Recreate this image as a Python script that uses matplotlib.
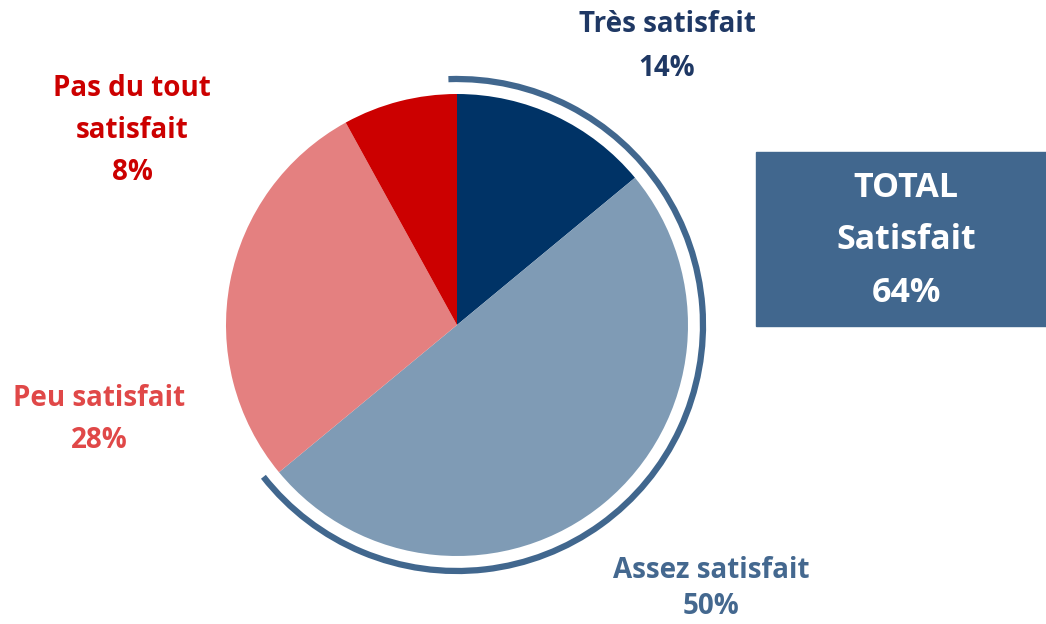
import numpy as np
import matplotlib
matplotlib.use('Agg')
import matplotlib.pyplot as plt
from matplotlib.patches import Arc, Rectangle

# données
categories = ['Très satisfait', 'Assez satisfait', 'Peu satisfait', 'Pas du tout\nsatisfait']
valeurs = [14, 50, 28, 8]
total_satisfait = 64
couleurs = ['#003366', '#7F9BB5', '#E48080', '#CC0000']
couleurs_txt = ['#1F3864', '#44688F', '#E04848', '#CC0000']

plt.rcParams['font.family'] = ['Open Sans', 'DejaVu Sans']

W, H = 1046, 624
fig = plt.figure(figsize=(W / 100, H / 100), dpi=100)
ax = fig.add_axes([0, 0, 1, 1])

cx, cy, r = 457, H - 325, 231
ax.pie(valeurs, colors=couleurs, startangle=90, counterclock=False,
       center=(cx, cy), radius=r, frame=True)
ax.set_xlim(0, W)
ax.set_ylim(0, H)
ax.set_aspect('equal')
ax.axis('off')

# arc autour du total satisfait
fin = 90 - total_satisfait / 100 * 360
arc = Arc((cx, cy), 2 * 246, 2 * 246, theta1=fin - 1.5, theta2=92,
          color='#41678E', lw=4.5, capstyle='butt')
ax.add_patch(arc)

# étiquettes
fs = 20
pos = [(667, 25, 69), (711, 570, 607), (99, 398, 441), (132, 88, 172)]
for cat, v, c, (x, y1, y2) in zip(categories, valeurs, couleurs_txt, pos):
    if '\n' in cat:
        l1, l2 = cat.split('\n')
        ax.text(x, H - y1, l1, ha='center', va='center', fontsize=fs, fontweight='bold', color=c)
        ax.text(x, H - (y1 + y2) / 2, l2, ha='center', va='center', fontsize=fs, fontweight='bold', color=c)
    else:
        ax.text(x, H - y1, cat, ha='center', va='center', fontsize=fs, fontweight='bold', color=c)
    ax.text(x, H - y2, f'{v}%', ha='center', va='center', fontsize=fs, fontweight='bold', color=c)

# encadré total
ax.add_patch(Rectangle((756, H - 326), 290, 174, color='#41678E'))
for txt, y in [('TOTAL', 188), ('Satisfait', 240), (f'{total_satisfait}%', 293)]:
    ax.text(906, H - y, txt, ha='center', va='center', fontsize=24.5, fontweight='bold', color='white')

fig.savefig('out.png', dpi=100)
